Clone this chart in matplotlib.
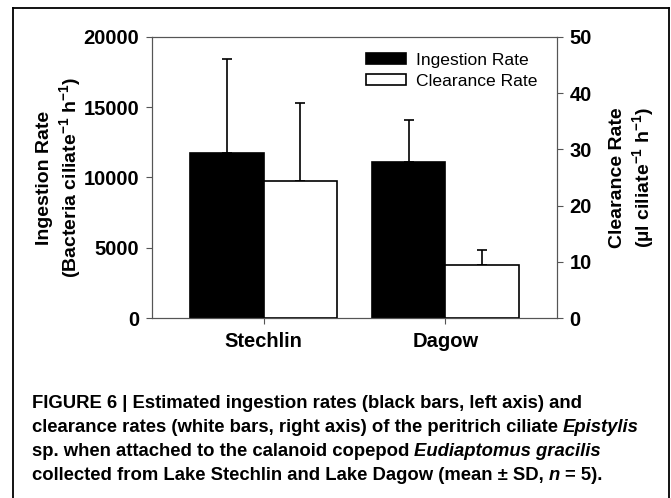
import numpy as np
import matplotlib
matplotlib.use('Agg')
import matplotlib.pyplot as plt
from matplotlib.lines import Line2D

# data
lakes = ['Stechlin', 'Dagow']
ingestion = [11750, 11080]      # bacteria ciliate-1 h-1 (left axis)
ingestion_sd = [6700, 2990]
clearance = [24.3, 9.5]         # ul ciliate-1 h-1 (right axis)
clearance_sd = [13.9, 2.6]

plt.rcParams['font.family'] = ['Liberation Sans', 'DejaVu Sans']
plt.rcParams['mathtext.fontset'] = 'custom'
plt.rcParams['mathtext.rm'] = 'Liberation Sans:bold'
plt.rcParams['mathtext.bf'] = 'Liberation Sans:bold'
plt.rcParams['mathtext.it'] = 'Liberation Sans:bold'

fig = plt.figure(figsize=(6.71, 4.98), dpi=100)
ax = fig.add_axes([152/671, 1-318/498, 405/671, 281/498])
ax2 = ax.twinx()

x = np.arange(len(lakes))
w = 0.405
ax.bar(x - w/2, ingestion, w, color='black', edgecolor='black', lw=1.2, label='Ingestion Rate', zorder=2)
ax.errorbar(x - w/2, ingestion, yerr=[np.zeros(2), ingestion_sd], fmt='none',
            ecolor='black', elinewidth=1.2, capsize=3.5, capthick=1.2, zorder=1)
ax2.bar(x + w/2, clearance, w, color='white', edgecolor='black', lw=1.2, label='Clearance Rate', zorder=2)
ax2.errorbar(x + w/2, clearance, yerr=[np.zeros(2), clearance_sd], fmt='none',
             ecolor='black', elinewidth=1.2, capsize=3.5, capthick=1.2, zorder=1)

ax.set_xlim(-0.613, 1.613)
ax.set_ylim(0, 20000)
ax2.set_ylim(0, 50)
ax.set_yticks(np.arange(0, 20001, 5000))
ax2.set_yticks(np.arange(0, 51, 10))
ax.set_xticks(x)
ax.set_xticklabels(lakes)

for a in (ax, ax2):
    for s in a.spines.values():
        s.set_color('#555555')
        s.set_linewidth(0.8)
    a.tick_params(length=4, width=0.8, color='#555555', labelsize=14.5, pad=5)
    for lab in a.get_yticklabels() + a.get_xticklabels():
        lab.set_fontweight('bold')
ax.tick_params(axis='x', pad=6)

ax.set_ylabel('Ingestion Rate\n(Bacteria ciliate$^{-1}$ h$^{-1}$)', fontsize=14,
              fontweight='bold', linespacing=1.2)
ax2.set_ylabel('Clearance Rate\n(\u00b5l ciliate$^{-1}$ h$^{-1}$)', fontsize=14,
               fontweight='bold', linespacing=1.2, rotation=90)
ax.yaxis.label.set_va('center')
ax2.yaxis.label.set_va('center')
ax.yaxis.set_label_coords(-0.228, 0.5)
ax2.yaxis.set_label_coords(1.187, 0.5)

h1, l1 = ax.get_legend_handles_labels()
h2, l2 = ax2.get_legend_handles_labels()
ax2.legend(h1 + h2, l1 + l2, loc='upper left', bbox_to_anchor=(366/671, 1-53/498),
           bbox_transform=fig.transFigure, frameon=False, fontsize=12.6,
           handlelength=2.3, handleheight=0.6, handletextpad=0.55,
           labelspacing=0.32, borderpad=0, borderaxespad=0)

# frame around the figure
for xs, ys in [([13/671, 13/671], [0, 1-8/498]),
               ([13/671, 669/671], [1-8/498, 1-8/498]),
               ([669/671, 669/671], [1-8/498, 0])]:
    fig.add_artist(Line2D(xs, ys, transform=fig.transFigure, color='black', lw=1.3))

# caption with italic words
caption = [
    [('FIGURE 6 | Estimated ingestion rates (black bars, left axis) and', 'normal')],
    [('clearance rates (white bars, right axis) of the peritrich ciliate', 'normal'),
     ('Epistylis', 'italic')],
    [('sp. when attached to the calanoid copepod', 'normal'),
     ('Eudiaptomus gracilis', 'italic')],
    [('collected from Lake Stechlin and Lake Dagow (mean \u00b1 SD,', 'normal'),
     ('n', 'italic'), ('= 5).', 'normal')],
]
renderer = fig.canvas.get_renderer()
cap_kw = dict(fontsize=13.3, fontweight='bold', va='center')


def text_width(s, style):
    t = fig.text(0, 0, s, style=style, **cap_kw)
    wd = t.get_window_extent(renderer).width
    t.remove()
    return wd


space = text_width('a a', 'normal') - text_width('aa', 'normal')
for i, line in enumerate(caption):
    xp = 32
    yp = 403 + 24 * i
    for s, style in line:
        t = fig.text(xp / 671, 1 - yp / 498, s, style=style, **cap_kw)
        xp += t.get_window_extent(renderer).width + space

fig.savefig('out.png', dpi=100)
